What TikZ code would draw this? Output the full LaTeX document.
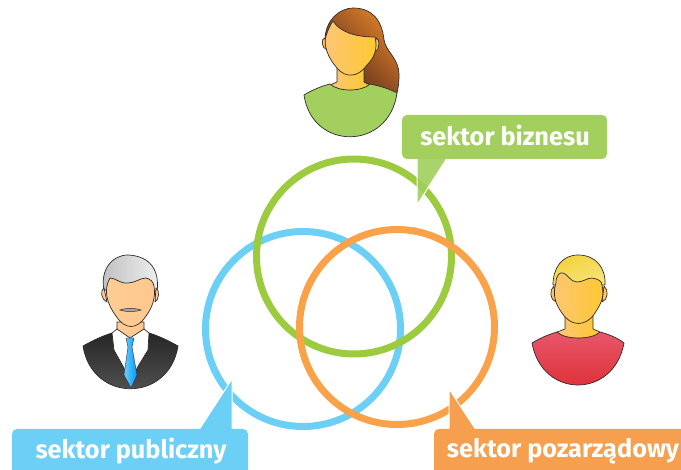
\documentclass[tikz,border=0pt]{standalone}
\usepackage{fontspec}
\setmainfont{Fira Sans}
\definecolor{ringgreen}{HTML}{9CCB3F}
\definecolor{boxgreen}{HTML}{A2CF5E}
\definecolor{ringblue}{HTML}{6CCFF6}
\definecolor{ringorange}{HTML}{F9A24A}
\definecolor{boxorange}{HTML}{F69F4E}
\definecolor{outline}{HTML}{2E2A2B}
\definecolor{hairlight}{HTML}{DC7F2A}
\definecolor{hairdark}{HTML}{55281B}
\definecolor{hairblond}{HTML}{F3D23C}
\definecolor{hairpale}{HTML}{F5E57A}
\definecolor{shirttop}{HTML}{E8566A}
\definecolor{shirtlow}{HTML}{DC2A2E}
\tikzset{
	ring/.style={line width=7pt},
	callbox/.style={rounded corners=5pt, inner sep=0pt},
	calltext/.style={text=white, font=\fontsize{25.3}{27}\bfseries\selectfont, inner sep=0pt},
	tail/.style={draw=white, line width=1pt, line join=miter},
	person/.style={draw=outline, line width=.7pt, line join=round},
	skin/.style={person, left color={rgb,255:red,253;green,198;blue,118}, right color={rgb,255:red,255;green,200;blue,46}},
	skinman/.style={person, left color={rgb,255:red,255;green,205;blue,150}, right color={rgb,255:red,255;green,200;blue,140}},
}
\begin{document}
\begin{tikzpicture}[x=1pt,y=-1pt, line cap=round]
	\useasboundingbox (0,0) rectangle (681,470);
	%rings
	\draw[ring,ringblue] (303,329) circle (97.5);
	\draw[ring,ringgreen] (354,256.5) circle (97.5);
	\draw[ring,ringorange] (397,327) circle (97.5);
	%green callout
	\fill[tail,fill=boxgreen,fill opacity=.92] (417,155)--(417,205)--(449,155)--cycle;
	\node[callbox,fill=boxgreen,minimum width=205pt,minimum height=44pt] (boxbiz) at (504.5,137) {};
	\node[calltext] (labbiz) at (505,135.5) {sektor biznesu};
	%blue callout
	\fill[tail,fill=ringblue] (197,433)--(232,379)--(232,433)--cycle;
	\node[callbox,fill=ringblue,minimum width=236pt,minimum height=60pt] (boxpub) at (130,459) {};
	\node[calltext] (labpub) at (131,451) {sektor publiczny};
	%orange callout
	\fill[tail,fill=boxorange] (449,433)--(449,389)--(478,433)--cycle;
	\node[callbox,fill=boxorange,minimum width=300pt,minimum height=60pt] (boxpoz) at (584,459) {};
	\node[calltext] (labpoz) at (563,451.5) {sektor pozarządowy};
	%woman
	\draw[person,left color=hairlight,right color=hairdark,shading angle=-45] (325,40)
		..controls (325,20) and (340,8) .. (353,8)
		..controls (372,8) and (382,20) .. (384,40)
		..controls (386,52) and (399,58) .. (399,75)
		..controls (399,84) and (398,90) .. (396,96)
		--(364,96)--(364,60)--(340,45)--cycle;
	\draw[skin] (325,38)..controls (321,38) and (321,48) .. (327,50)--cycle;
	\draw[skin] (376,38)..controls (380,38) and (380,50) .. (375,52)--cycle;
	\draw[skin] (337,68)--(337,82)--(330,85)--(330,93)--(370,93)--(370,85)--(364,82)--(364,68)--cycle;
	\draw[person,fill=boxgreen] (304,95)..controls (312,90) and (322,86) .. (330,84)
		..controls (338,92) and (362,92) .. (370,84)
		..controls (380,86) and (390,89) .. (397,93)
		..controls (389,151) and (312,151) .. (304,95)--cycle;
	\draw[skin] (333,21)..controls (340,32) and (355,37) .. (375,37)
		..controls (378,50) and (374,58) .. (367,65)
		..controls (358,78) and (345,78) .. (337,68)
		..controls (328,58) and (323,45) .. (326,36)
		..controls (328,30) and (330,25) .. (333,21)--cycle;
	%man
	\draw[person,left color=black!25,right color=black!6] (104,290)
		..controls (100,270) and (112,255) .. (128,255)
		..controls (150,256) and (160,270) .. (157,292)--cycle;
	\draw[skinman] (104,288)..controls (100,290) and (101,300) .. (107,302)--cycle;
	\draw[skinman] (156,288)..controls (160,290) and (159,300) .. (155,302)--cycle;
	\draw[skinman] (117,322)--(117,332)--(131,340)--(144,332)--(144,322)--cycle;
	\draw[person,top color=black!85,bottom color=black!65] (83,346)
		..controls (92,341) and (102,336) .. (112,333)--(131,345)--(149,333)
		..controls (159,336) and (169,341) .. (178,346)
		..controls (169,403) and (92,403) .. (83,346)--cycle;
	\draw[person,fill=white] (112,333)--(117,329)--(130,338)--(144,329)--(149,333)
		--(148,350)--(137,368)--(131,387)--(124,368)--(114,350)--cycle;
	\draw[person,left color=ringblue,right color=cyan!60!blue,line width=.4pt] (126,338)--(134,338)--(132,347)
		--(137,375)--(131,388)--(124,375)--(128,347)--cycle;
	\draw[skinman] (110,278)..controls (116,278) and (120,284) .. (128,283)
		..controls (135,283) and (140,278) .. (146,278)
		..controls (150,279) and (153,281) .. (154,286)
		..controls (156,298) and (152,308) .. (146,316)
		..controls (137,330) and (125,330) .. (116,316)
		..controls (107,304) and (103,290) .. (110,278)--cycle;
	\path[fill=black!35,draw=outline,line width=.5pt] (120,310)..controls (125,308) and (136,308) .. (141,310)
		..controls (136,312) and (125,312) .. (120,310)--cycle;
	%young man
	\draw[person,left color=hairblond,right color=hairpale,shading angle=20] (553,285)
		..controls (553,268) and (562,255) .. (578,255)
		..controls (596,255) and (606,268) .. (605,285)--cycle;
	\draw[skin] (554,286)..controls (549,290) and (550,300) .. (556,302)--cycle;
	\draw[skin] (604,286)..controls (609,290) and (608,300) .. (602,302)--cycle;
	\draw[skin] (565,316)--(565,329)--(557,332)--(557,339)--(600,339)--(600,332)--(593,329)--(593,316)--cycle;
	\draw[person,top color=shirttop,bottom color=shirtlow] (532,343)
		..controls (540,338) and (550,334) .. (557,332)
		..controls (565,340) and (592,340) .. (600,332)
		..controls (608,334) and (618,338) .. (624,343)
		..controls (614,399) and (542,399) .. (532,343)--cycle;
	\draw[skin] (556,283)..controls (556,275) and (560,272) .. (563,273)
		..controls (568,274) and (570,282) .. (577,282)
		..controls (583,282) and (587,278) .. (592,278)
		..controls (598,279) and (602,281) .. (602,285)
		..controls (605,298) and (600,305) .. (595,313)
		..controls (586,327) and (571,327) .. (562,313)
		..controls (556,305) and (552,295) .. (556,283)--cycle;
\end{tikzpicture}
\end{document}
